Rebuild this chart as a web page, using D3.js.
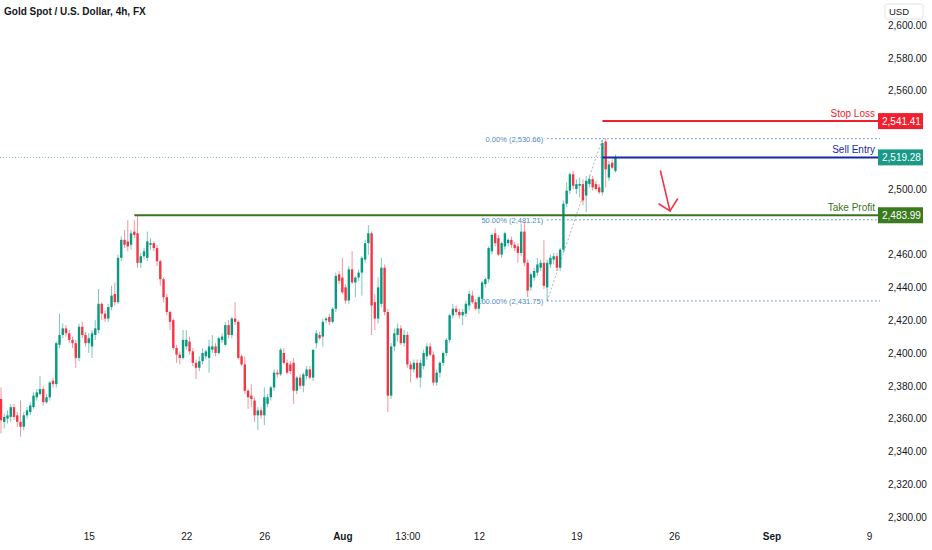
<!DOCTYPE html>
<html>
<head>
<meta charset="utf-8">
<script src="https://cdn.jsdelivr.net/npm/d3@7"></script>
<style>
  body { margin: 0; background: #fff; }
  svg { display: block; font-family: "Liberation Sans", "DejaVu Sans", sans-serif; }
</style>
</head>
<body>
<svg id="chart" width="932" height="550"></svg>
<script>
// 4h candles (index 0 = first candle at the left edge)
const opens = [
  2372,2358,2360,2361,2367,2362,2358,2355,2362,2364, 2367,2373,2375,2378,2370,2373,2383,2381,2405,2411,
  2415,2412,2408,2406,2397,2416,2411,2406,2404,2411, 2414,2430,2424,2421,2428,2436,2431,2458,2469,2468,
  2466,2474,2473,2455,2459,2458,2466,2467,2464,2456, 2445,2434,2425,2420,2403,2399,2397,2404,2407,2401,
  2394,2391,2395,2398,2397,2402,2404,2400,2408,2405, 2417,2411,2421,2419,2398,2393,2377,2374,2371,2362,
  2365,2362,2369,2373,2379,2388,2387,2400,2394,2393, 2394,2377,2385,2380,2386,2390,2385,2406,2411,2410,
  2420,2422,2419,2427,2448,2446,2440,2432,2451,2443, 2446,2449,2457,2467,2473,2431,2421,2430,2452,2425,
  2374,2404,2411,2415,2406,2411,2393,2390,2394,2385, 2392,2398,2404,2399,2382,2388,2394,2400,2408,2423,
  2427,2425,2423,2424,2429,2435,2431,2427,2433,2442, 2445,2462,2473,2470,2460,2465,2467,2469,2466,2465,
  2461,2474,2455,2440,2446,2449,2452,2455,2440,2454, 2457,2459,2452,2463,2491,2499,2509,2500,2502,2503,
  2496,2503,2506,2503,2501,2498,2529,2507,2516,2511
];
const highs = [
  2379,2363,2365,2369,2369,2364,2371,2364,2367,2370, 2376,2378,2386,2380,2375,2383,2385,2407,2424,2418,
  2417,2414,2410,2408,2418,2419,2413,2412,2414,2420, 2439,2431,2426,2430,2441,2443,2460,2471,2475,2481,
  2475,2481,2484,2461,2464,2474,2470,2468,2466,2457, 2446,2436,2426,2421,2405,2401,2414,2414,2410,2403,
  2396,2398,2403,2402,2408,2411,2406,2410,2412,2419, 2420,2422,2431,2420,2399,2398,2378,2381,2373,2367,
  2367,2379,2375,2380,2390,2390,2403,2403,2396,2395, 2397,2386,2387,2388,2392,2392,2402,2414,2413,2421,
  2422,2424,2428,2449,2450,2458,2442,2453,2462,2447, 2451,2459,2469,2478,2474,2436,2446,2458,2454,2427,
  2406,2415,2418,2417,2414,2413,2395,2396,2396,2396, 2402,2406,2406,2401,2390,2395,2401,2409,2424,2430,
  2429,2427,2427,2432,2438,2438,2433,2435,2444,2446, 2465,2473,2476,2472,2468,2474,2470,2471,2468,2467,
  2479,2480,2457,2449,2452,2458,2457,2469,2457,2460, 2461,2461,2464,2493,2504,2510,2511,2506,2507,2506,
  2508,2508,2508,2505,2503,2530,2531,2517,2518,2521
];
const lows = [
  2351,2354,2357,2358,2359,2355,2349,2353,2360,2362, 2366,2371,2374,2368,2369,2371,2379,2379,2403,2409,
  2410,2406,2403,2391,2395,2409,2404,2400,2397,2408, 2412,2420,2419,2419,2426,2429,2430,2456,2464,2462,
  2463,2470,2452,2452,2457,2456,2463,2462,2453,2441, 2431,2423,2414,2402,2394,2393,2396,2402,2399,2392,
  2384,2389,2393,2396,2388,2400,2398,2399,2406,2404, 2409,2409,2417,2396,2392,2375,2366,2367,2358,2353,
  2360,2356,2367,2371,2377,2385,2386,2393,2387,2387, 2369,2375,2378,2376,2384,2384,2383,2403,2408,2404,
  2418,2417,2418,2425,2442,2436,2430,2430,2442,2434, 2444,2435,2455,2460,2411,2414,2418,2428,2423,2364,
  2372,2401,2407,2405,2404,2391,2382,2388,2384,2379, 2390,2396,2398,2380,2380,2385,2392,2398,2406,2421,
  2423,2421,2417,2422,2426,2430,2426,2424,2431,2440, 2443,2460,2465,2459,2458,2463,2465,2464,2462,2455,
  2459,2453,2434,2438,2444,2447,2450,2439,2432,2452, 2454,2450,2450,2461,2489,2497,2500,2497,2495,2490,
  2486,2501,2499,2499,2497,2496,2501,2505,2512,2510
];
const closes = [
  2359,2361,2362,2367,2361,2358,2355,2362,2365,2368, 2374,2376,2378,2370,2373,2382,2381,2406,2411,2415,
  2412,2408,2406,2397,2416,2411,2406,2409,2412,2415, 2430,2424,2421,2428,2435,2431,2458,2469,2466,2465,
  2473,2472,2455,2459,2462,2468,2467,2464,2456,2445, 2434,2425,2419,2403,2399,2397,2408,2408,2401,2394,
  2391,2395,2400,2401,2404,2404,2400,2409,2410,2417, 2411,2421,2419,2397,2393,2377,2373,2372,2362,2365,
  2362,2373,2373,2379,2388,2387,2402,2394,2388,2389, 2377,2385,2380,2387,2390,2385,2402,2412,2409,2419,
  2421,2419,2427,2447,2444,2437,2432,2451,2443,2446, 2449,2458,2467,2473,2429,2421,2440,2452,2425,2374,
  2404,2412,2415,2406,2411,2393,2390,2394,2385,2394, 2400,2404,2399,2382,2388,2394,2400,2408,2423,2427,
  2425,2423,2425,2430,2436,2431,2427,2434,2443,2445, 2464,2472,2467,2460,2467,2473,2469,2466,2464,2461,
  2474,2455,2438,2448,2450,2454,2455,2441,2455,2458, 2459,2452,2463,2491,2499,2509,2502,2503,2503,2493,
  2505,2506,2501,2500,2498,2528,2512,2515,2513,2519
];

// time axis labels and the candle index they sit on
const dateLabels = ["15", "22", "26", "Aug", "13:00", "12", "19", "26", "Sep", "9"];
const dateIdx = [27, 57, 81, 105, 125, 147, 177, 207, 237, 267];
const boldLabels = ["Aug", "Sep"];

const priceTicks = d3.range(2300, 2601, 20);

// trade levels
const levelNames = ["Stop Loss", "Sell Entry", "Take Profit"];
const levelPrices = [2541.41, 2519.28, 2483.99];
const levelStart = [185, 185, 41];          // candle index where each line starts
const levelColors = ["#f0202e", "#1429a6", "#38761d"];
const levelBoxColors = ["#f0202e", "#1a9a86", "#3b7a1e"];

// fib retracement
const fibPcts = ["0.00%", "50.00%", "100.00%"];
const fibPrices = [2530.66, 2481.21, 2431.75];
const fibFrom = [168, 185];                  // low candle -> high candle

const lastPrice = 2519.28;

const svg = d3.select("#chart");
const W = 932, H = 550;

const x = d3.scaleLinear().domain([0, 267]).range([1, 869]);
const y = d3.scaleLinear().domain([2300, 2600]).range([517, 25]);
const axisX = 878;

svg.append("rect").attr("width", W).attr("height", H).attr("fill", "#fff");

// title
svg.append("text")
  .attr("x", 4).attr("y", 15)
  .attr("font-size", 10).attr("font-weight", 700)
  .attr("fill", "#131722")
  .text("Gold Spot / U.S. Dollar, 4h, FX");

// last price dotted line
svg.append("line")
  .attr("x1", 0).attr("x2", axisX)
  .attr("y1", y(lastPrice)).attr("y2", y(lastPrice))
  .attr("stroke", "#1a9a86").attr("stroke-width", 0.8)
  .attr("stroke-dasharray", "1,2").attr("opacity", 0.7);

// fib levels
const fibG = svg.append("g");
const fibX1 = x(fibFrom[0]);
fibG.append("line")
  .attr("x1", fibX1).attr("y1", y(fibPrices[2]))
  .attr("x2", x(fibFrom[1])).attr("y2", y(fibPrices[0]))
  .attr("stroke", "#9aa0ac").attr("stroke-width", 0.8)
  .attr("stroke-dasharray", "2,2");
fibPrices.forEach((p, i) => {
  fibG.append("line")
    .attr("x1", fibX1).attr("x2", axisX + 2)
    .attr("y1", y(p)).attr("y2", y(p))
    .attr("stroke", "#4f86c6").attr("stroke-width", 1)
    .attr("stroke-dasharray", "1.5,2.5");
  fibG.append("text")
    .attr("x", fibX1 - 4).attr("y", y(p) + 3)
    .attr("text-anchor", "end")
    .attr("font-size", 7.5)
    .attr("fill", "#4f86c6")
    .text(fibPcts[i] + " (" + d3.format(",.2f")(p) + ")");
});

// candles
const bodyW = 2.4;
const candles = svg.append("g").selectAll("g")
  .data(closes.map((c, i) => ({ i, o: opens[i], h: highs[i], l: lows[i], c })))
  .join("g")
  .attr("fill", d => d.c >= d.o ? "#089981" : "#f23645")
  .attr("stroke", d => d.c >= d.o ? "#089981" : "#f23645");

candles.append("line")
  .attr("x1", d => x(d.i)).attr("x2", d => x(d.i))
  .attr("y1", d => y(d.h)).attr("y2", d => y(d.l))
  .attr("stroke-width", 0.9).attr("stroke-opacity", 0.6);

candles.append("rect")
  .attr("x", d => x(d.i) - bodyW / 2)
  .attr("y", d => y(Math.max(d.o, d.c)))
  .attr("width", bodyW)
  .attr("height", d => Math.max(1, Math.abs(y(d.o) - y(d.c))))
  .attr("stroke", "none");

// trade level lines + names
levelPrices.forEach((p, i) => {
  svg.append("line")
    .attr("x1", x(levelStart[i])).attr("x2", axisX)
    .attr("y1", y(p)).attr("y2", y(p))
    .attr("stroke", levelColors[i]).attr("stroke-width", 2);
  svg.append("text")
    .attr("x", axisX - 3).attr("y", y(p) - 4)
    .attr("text-anchor", "end")
    .attr("font-size", 10)
    .attr("fill", levelColors[i])
    .text(levelNames[i]);
});

// arrow pointing down
const arrow = svg.append("g").attr("stroke", "#f23645").attr("stroke-width", 1.6)
  .attr("fill", "none").attr("stroke-linecap", "round");
arrow.append("line").attr("x1", 660.5).attr("y1", 171).attr("x2", 670).attr("y2", 211);
arrow.append("polyline").attr("points", "659,204 670,211 677.5,199");

// price axis; ticks sitting under a level box are covered, so leave them out
const hiddenTicks = priceTicks.filter(t => levelPrices.some(p => Math.abs(y(t) - y(p)) < 12));
const yAxis = svg.append("g")
  .attr("transform", `translate(${axisX},0)`)
  .call(d3.axisRight(y).tickValues(priceTicks.filter(t => !hiddenTicks.includes(t)))
    .tickSize(0).tickPadding(10)
    .tickFormat(d3.format(",.2f")));
yAxis.select(".domain").remove();
yAxis.selectAll("text").attr("font-size", 10).attr("fill", "#131722")
  .attr("font-family", "Liberation Sans, sans-serif");

// price boxes on the axis
levelPrices.forEach((p, i) => {
  svg.append("rect")
    .attr("x", axisX).attr("y", y(p) - 8)
    .attr("width", 45).attr("height", 16)
    .attr("fill", levelBoxColors[i]);
  svg.append("text")
    .attr("x", axisX + 4).attr("y", y(p) + 3.5)
    .attr("font-size", 10).attr("fill", "#fff")
    .text(d3.format(",.2f")(p));
});

// currency badge
svg.append("rect")
  .attr("x", 885).attr("y", 4).attr("width", 38).attr("height", 15).attr("rx", 2)
  .attr("fill", "#fff").attr("stroke", "#e0e3eb");
svg.append("text")
  .attr("x", 889).attr("y", 15).attr("font-size", 9.5).attr("fill", "#131722")
  .text("USD");

// time axis
const xAxis = svg.append("g")
  .attr("transform", "translate(0,530)")
  .call(d3.axisBottom(x).tickValues(dateIdx).tickSize(0).tickPadding(3)
    .tickFormat((d, i) => dateLabels[i]));
xAxis.select(".domain").remove();
xAxis.selectAll("text").attr("font-size", 10).attr("fill", "#131722")
  .attr("font-weight", (d, i) => boldLabels.includes(dateLabels[i]) ? 700 : 400);
</script>
</body>
</html>
